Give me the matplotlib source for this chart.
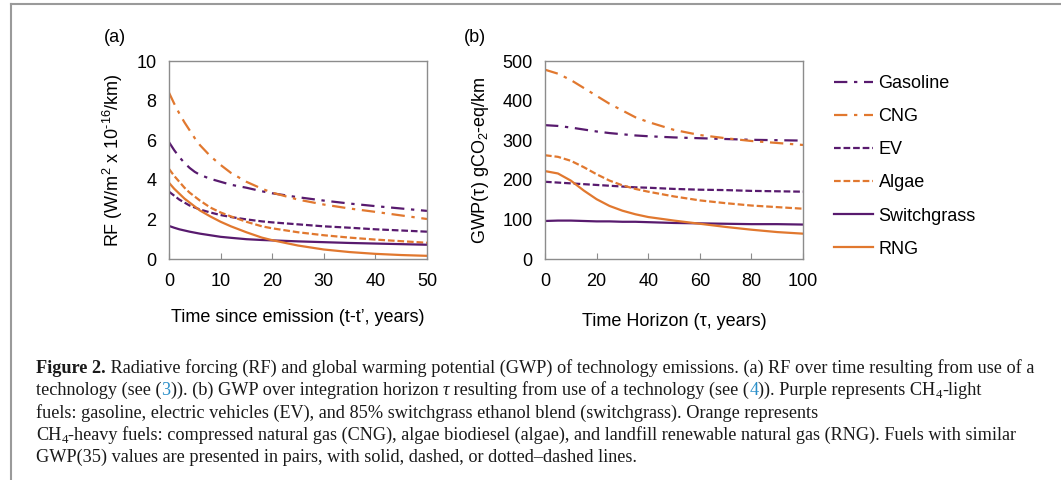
import matplotlib
matplotlib.use("Agg")
import matplotlib.pyplot as plt
from matplotlib.lines import Line2D
from matplotlib.transforms import IdentityTransform

plt.rcParams['font.family'] = ['Liberation Sans', 'DejaVu Sans']
plt.rcParams['mathtext.fontset'] = 'custom'
plt.rcParams['mathtext.rm'] = 'Liberation Sans'
plt.rcParams['mathtext.it'] = 'Liberation Sans:italic'

PURPLE = '#581a6e'
ORANGE = '#e1782f'

# --- (a) radiative forcing, W/m2 x 1e-16 per km ---
t_rf = [0, 1, 2, 3, 4, 5, 6, 8, 10, 12, 15, 18, 20, 25, 30, 35, 40, 45, 50]
rf_gasoline = [5.9, 5.5, 5.15, 4.85, 4.6, 4.4, 4.25, 4.05, 3.9, 3.75, 3.6, 3.42, 3.32, 3.12, 2.95, 2.8, 2.67, 2.55, 2.43]
rf_cng = [8.4, 7.85, 7.35, 6.9, 6.5, 6.1, 5.75, 5.2, 4.75, 4.35, 3.9, 3.55, 3.35, 3.0, 2.75, 2.55, 2.38, 2.2, 2.02]
rf_ev = [3.4, 3.2, 3.0, 2.85, 2.7, 2.6, 2.5, 2.35, 2.22, 2.12, 2.0, 1.9, 1.85, 1.75, 1.65, 1.58, 1.5, 1.44, 1.38]
rf_algae = [4.55, 4.2, 3.9, 3.6, 3.35, 3.15, 2.95, 2.6, 2.35, 2.15, 1.88, 1.65, 1.55, 1.35, 1.2, 1.08, 0.98, 0.9, 0.82]
rf_switchgrass = [1.67, 1.58, 1.5, 1.44, 1.38, 1.33, 1.28, 1.2, 1.12, 1.07, 1.0, 0.96, 0.94, 0.89, 0.85, 0.81, 0.78, 0.75, 0.72]
rf_rng = [3.85, 3.55, 3.3, 3.05, 2.85, 2.65, 2.45, 2.15, 1.88, 1.65, 1.35, 1.08, 0.95, 0.68, 0.48, 0.35, 0.26, 0.2, 0.16]

# --- (b) GWP over time horizon, gCO2-eq/km ---
t_gwp = [0, 5, 10, 15, 20, 25, 30, 35, 40, 50, 60, 70, 80, 90, 100]
gwp_gasoline = [338, 336, 332, 327, 322, 318, 315, 312, 310, 307, 305, 303, 301, 300, 299]
gwp_cng = [478, 468, 452, 432, 412, 392, 375, 358, 346, 326, 313, 305, 298, 293, 288]
gwp_ev = [195, 193, 191, 189, 187, 185, 183, 181, 180, 177, 175, 174, 172, 171, 170]
gwp_algae = [262, 258, 248, 232, 214, 198, 186, 177, 170, 158, 148, 141, 135, 131, 127]
gwp_switchgrass = [96, 97, 97, 96, 95, 95, 94, 94, 93, 91, 90, 89, 88, 88, 87]
gwp_rng = [222, 216, 198, 173, 151, 134, 122, 113, 106, 97, 89, 81, 74, 68, 64]

names = ['Gasoline', 'CNG', 'EV', 'Algae', 'Switchgrass', 'RNG']
colors = [PURPLE, ORANGE, PURPLE, ORANGE, PURPLE, ORANGE]
dashdot = (0, (6, 3, 1.5, 3))
dashed = (0, (3, 1.3))
styles = [dashdot, dashdot, dashed, dashed, '-', '-']

rf_series = [rf_gasoline, rf_cng, rf_ev, rf_algae, rf_switchgrass, rf_rng]
gwp_series = [gwp_gasoline, gwp_cng, gwp_ev, gwp_algae, gwp_switchgrass, gwp_rng]

W, H = 1061, 480
FS = 13
fig = plt.figure(figsize=(W / 100, H / 100), dpi=100)


def axes_px(left, top, right, bottom):
    return fig.add_axes([left / W, 1 - bottom / H, (right - left) / W, (bottom - top) / H])


def style_axes(ax):
    for s in ax.spines.values():
        s.set_color('#8c8c8c')
        s.set_linewidth(1.0)
    ax.tick_params(axis='x', direction='in', length=4, color='#8c8c8c', labelsize=FS, pad=10)
    ax.tick_params(axis='y', length=0, labelsize=FS, pad=9)


ax1 = axes_px(169, 61, 427, 259)
for ys, c, ls, nm in zip(rf_series, colors, styles, names):
    ax1.plot(t_rf, ys, color=c, linestyle=ls, lw=1.6, label=nm)
ax1.set_xlim(0, 50)
ax1.set_ylim(0, 10)
ax1.set_xticks([0, 10, 20, 30, 40, 50])
ax1.set_yticks([0, 2, 4, 6, 8, 10])
style_axes(ax1)
ax1.set_xlabel("Time since emission (t-t\u2019, years)", fontsize=FS, labelpad=14)
ax1.set_ylabel(r"RF (W/m$^2$ x 10$^{\text{-16}}$/km)", fontsize=FS, labelpad=8)

ax2 = axes_px(545, 61, 803, 259)
for ys, c, ls, nm in zip(gwp_series, colors, styles, names):
    ax2.plot(t_gwp, ys, color=c, linestyle=ls, lw=1.6, label=nm)
ax2.set_xlim(0, 100)
ax2.set_ylim(0, 500)
ax2.set_xticks([0, 20, 40, 60, 80, 100])
ax2.set_yticks([0, 100, 200, 300, 400, 500])
style_axes(ax2)
ax2.set_xlabel("Time Horizon (\u03c4, years)", fontsize=FS, labelpad=17)
ax2.set_ylabel("GWP(\u03c4) gCO$_2$-eq/km", fontsize=FS, labelpad=8)

fig.text(115 / W, 1 - 38 / H, "(a)", fontsize=FS, ha='center', va='center')
fig.text(475 / W, 1 - 38 / H, "(b)", fontsize=FS, ha='center', va='center')

handles, labels = ax1.get_legend_handles_labels()
fig.legend(handles, labels, loc='upper left', bbox_to_anchor=(818 / W, 1 - 59 / H),
           frameon=False, fontsize=FS, handlelength=2.15, handletextpad=0.3,
           labelspacing=0.89)

# frame lines of the figure box
fig.add_artist(Line2D([11 / W, 11 / W], [0, 1 - 4 / H], color='#9a9a9a', lw=1.5))
fig.add_artist(Line2D([11 / W, 1], [1 - 4 / H, 1 - 4 / H], color='#9a9a9a', lw=1.5))

# --- caption ---
cap_lines = [
    [("Figure 2.", 'b'), (" Radiative forcing (RF) and global warming potential (GWP) of technology emissions. (a) RF over time resulting from use of a", 'n')],
    [("technology (see (", 'n'), ("3", 'blue'), (")). (b) GWP over integration horizon ", 'n'), ("\u03c4", 'it'),
     (" resulting from use of a technology (see (", 'n'), ("4", 'blue'), (")). Purple represents CH", 'n'), ("4", 'sub'), ("-light", 'n')],
    [("fuels: gasoline, electric vehicles (EV), and 85% switchgrass ethanol blend (switchgrass). Orange represents", 'n')],
    [("CH", 'n'), ("4", 'sub'), ("-heavy fuels: compressed natural gas (CNG), algae biodiesel (algae), and landfill renewable natural gas (RNG). Fuels with similar", 'n')],
    [("GWP(35) values are presented in pairs, with solid, dashed, or dotted\u2013dashed lines.", 'n')],
]
cap_size = 13.15
renderer = fig.canvas.get_renderer()
y0 = 373
for i, segs in enumerate(cap_lines):
    x = 36
    base = H - (y0 + i * 22.3)
    for txt, st in segs:
        kw = dict(family='Liberation Serif', fontsize=cap_size, color='#1a1a1a')
        yy = base
        if st == 'b':
            kw['weight'] = 'bold'
        elif st == 'blue':
            kw['color'] = '#2a8fc9'
        elif st == 'it':
            kw['style'] = 'italic'
        elif st == 'sub':
            kw['fontsize'] = cap_size * 0.7
            yy = base - 3
        t = fig.text(x, yy, txt, transform=IdentityTransform(), va='baseline', ha='left', **kw)
        x = t.get_window_extent(renderer).x1

fig.savefig("out.png", dpi=100)
